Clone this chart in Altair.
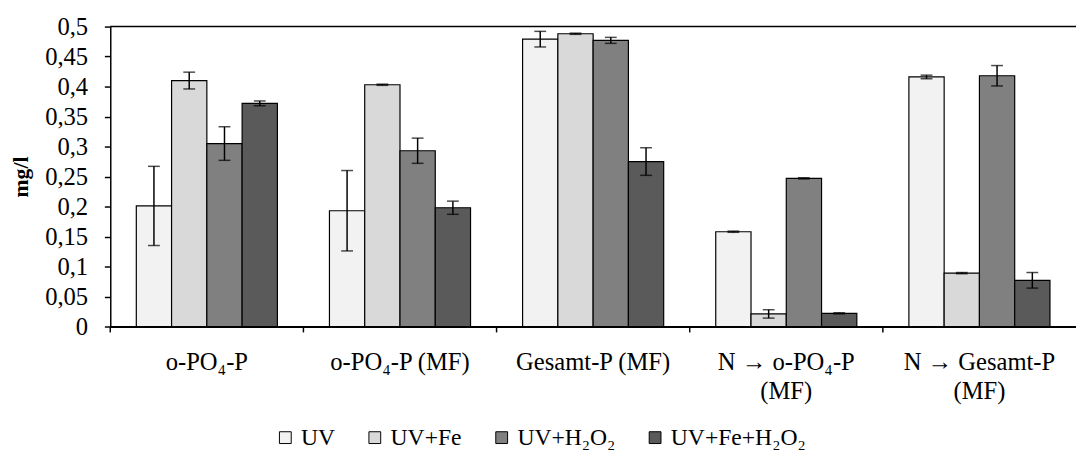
import altair as alt
import pandas as pd

categories = ["o-PO₄-P", "o-PO₄-P (MF)", "Gesamt-P (MF)", "N → o-PO₄-P\n(MF)", "N → Gesamt-P\n(MF)"]
series = ["UV", "UV+Fe", "UV+H₂O₂", "UV+Fe+H₂O₂"]
colors = ["#f2f2f2", "#d9d9d9", "#808080", "#5a5a5a"]

uv = [0.201, 0.193, 0.479, 0.158, 0.416]
uv_err = [0.066, 0.067, 0.013, 0.001, 0.003]
uv_fe = [0.410, 0.403, 0.488, 0.021, 0.089]
uv_fe_err = [0.014, 0.001, 0.001, 0.007, 0.001]
uv_h2o2 = [0.305, 0.293, 0.477, 0.247, 0.418]
uv_h2o2_err = [0.028, 0.021, 0.005, 0.001, 0.017]
uv_fe_h2o2 = [0.372, 0.198, 0.275, 0.022, 0.077]
uv_fe_h2o2_err = [0.004, 0.011, 0.023, 0.001, 0.013]

y_ticks = [0, 0.05, 0.1, 0.15, 0.2, 0.25, 0.3, 0.35, 0.4, 0.45, 0.5]

values = [uv, uv_fe, uv_h2o2, uv_fe_h2o2]
errors = [uv_err, uv_fe_err, uv_h2o2_err, uv_fe_h2o2_err]
rows = []
for s, vals, errs in zip(series, values, errors):
    for c, v, e in zip(categories, vals, errs):
        rows.append({"cat": c, "series": s, "value": v, "lo": v - e, "hi": v + e})
df = pd.DataFrame(rows)

W, H = 982, 305
FONT = "Liberation Serif"

x_axis = alt.Axis(title=None, labelAngle=0, ticks=False, tickSize=0, labelPadding=24,
                  labelFontSize=25, labelLineHeight=29, labelColor="black",
                  labelExpr="split(datum.label, '\\n')", labelOverlap=False, labelLimit=0,
                  domainColor="black", domainWidth=2)
x_scale = alt.Scale(paddingInner=0, paddingOuter=0)
x_enc = alt.X("cat:N", sort=categories, scale=x_scale, axis=x_axis)
xo_enc = alt.XOffset("series:N", sort=series, scale=alt.Scale(paddingInner=0, paddingOuter=0.738))
y_scale = alt.Scale(domain=[0, 0.5], nice=False, zero=True)
y_axis = alt.Axis(title="mg/l", values=y_ticks, grid=False,
                  labelExpr="replace(format(datum.value, '.2~f'), '.', ',')",
                  labelFontSize=25, labelColor="black", labelPadding=17,
                  tickSize=6, tickWidth=1.5, tickColor="black",
                  domainColor="black", domainWidth=1.5,
                  titleFontSize=22, titleFontWeight="bold", titleColor="black",
                  titlePadding=12)
y_enc = alt.Y("value:Q", scale=y_scale, axis=y_axis)

base = alt.Chart(df)

bars = base.mark_bar(stroke="black", strokeWidth=1.2).encode(
    x=x_enc, xOffset=xo_enc, y=y_enc,
    color=alt.Color("series:N", sort=series, scale=alt.Scale(domain=series, range=colors),
                    legend=alt.Legend(orient="none", legendX=166, legendY=406, direction="horizontal",
                                      title=None, symbolType="square", symbolSize=144,
                                      symbolStrokeColor="black", symbolStrokeWidth=1,
                                      labelFontSize=24, labelColor="black",
                                      labelLimit=0, columnPadding=28, labelOffset=4)),
)

err_rule = base.mark_rule(color="black", strokeWidth=1.5).encode(
    x=x_enc, xOffset=xo_enc, y=alt.Y("lo:Q", scale=y_scale, axis=y_axis), y2="hi:Q")
cap_lo = base.mark_tick(color="black", thickness=1.5, size=12).encode(
    x=x_enc, xOffset=xo_enc, y=alt.Y("lo:Q", scale=y_scale, axis=y_axis))
cap_hi = base.mark_tick(color="black", thickness=1.5, size=12).encode(
    x=x_enc, xOffset=xo_enc, y=alt.Y("hi:Q", scale=y_scale, axis=y_axis))

top_line = alt.Chart(pd.DataFrame({"a": [0]})).mark_rule(color="black", strokeWidth=1.5).encode(
    x=alt.value(0), x2=alt.value(W), y=alt.value(0))

x_ticks = alt.Chart(pd.DataFrame({"cat": categories})).mark_rule(color="black", strokeWidth=1.5).encode(
    x=alt.X("cat:N", sort=categories, scale=x_scale, axis=x_axis, bandPosition=0),
    y=alt.value(H), y2=alt.value(H + 6))

chart = alt.layer(bars, err_rule, cap_lo, cap_hi, top_line, x_ticks).properties(
    width=W, height=H,
    padding={"left": 104, "top": 15, "right": 0, "bottom": 140},
    autosize=alt.AutoSizeParams(type="none"),
).configure(font=FONT).configure_axis(
    labelFont=FONT, titleFont=FONT
).configure_legend(labelFont=FONT).configure_view(stroke=None)

chart.save("out.html", embed_options={"renderer": "svg", "actions": False})
